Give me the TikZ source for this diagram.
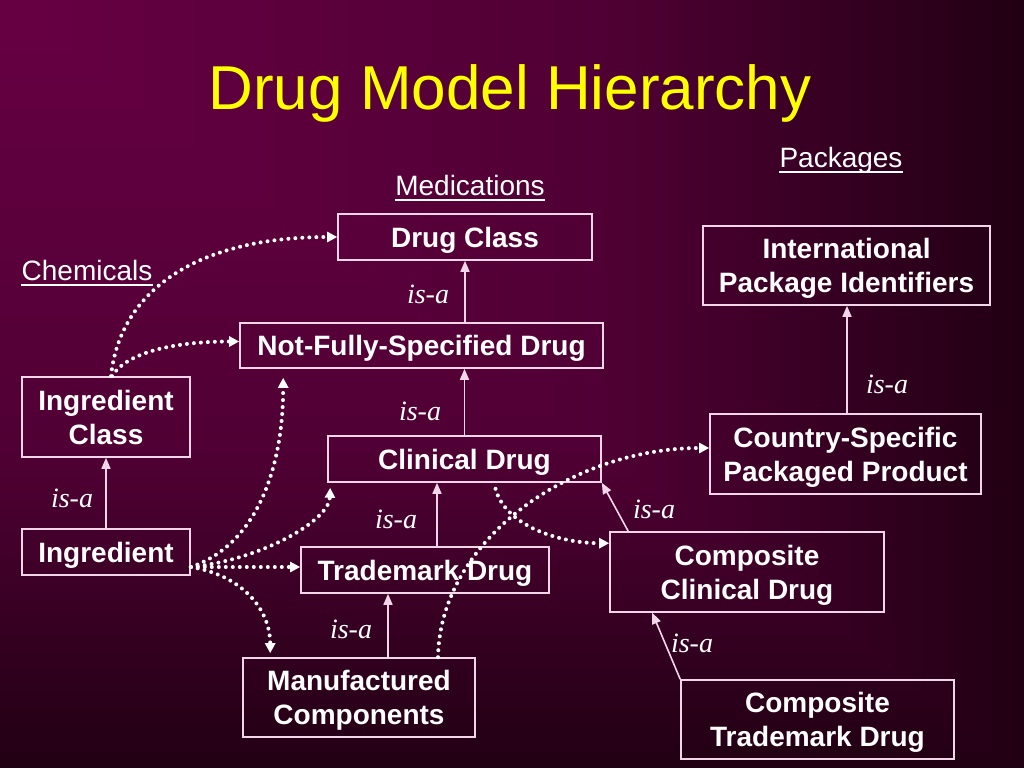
\documentclass[tikz,border=0pt]{standalone}
\usepackage{fontspec}
\setmainfont{Liberation Sans}
\newfontfamily\isafont{Liberation Serif}
\usetikzlibrary{arrows.meta}
\definecolor{boxc}{RGB}{240,214,232}
\definecolor{titlec}{RGB}{255,255,0}
\begin{document}
\begin{tikzpicture}[x=1pt,y=-1pt,
  box/.style={draw=boxc, line width=1.6pt, text=white, font=\fontsize{28}{34}\selectfont\bfseries, align=center, inner sep=0pt, text depth=0pt},
  isa/.style={draw=boxc, line width=1.6pt, -{Triangle[length=11pt,width=9pt]}},
  dots/.style={draw=white, line width=4pt, line cap=round, dash pattern=on 0pt off 7pt, -{Triangle[length=10pt,width=10pt]}},
  isalbl/.style={text=white, font=\isafont\itshape\fontsize{28}{34}\selectfont, anchor=base, inner sep=0pt},
  hdr/.style={text=white, font=\fontsize{28}{34}\selectfont, anchor=base, inner sep=0pt},
  uline/.style={draw=white, line width=2pt}
]
\useasboundingbox (0,0) rectangle (1024,768);
% background: gradient from the top-left corner
\foreach \i in {100,99,...,1}{
  \pgfmathsetmacro\t{\i/100}
  \pgfmathtruncatemacro\rr{\t<=0.6 ? 104-24*\t/0.6 : 80-46*(\t-0.6)/0.4}
  \pgfmathtruncatemacro\bb{\t<=0.6 ? 68-16*\t/0.6 : 52-32*(\t-0.6)/0.4}
  \definecolor{bgc}{RGB}{\rr,0,\bb}
  \fill[bgc] (0,0) rectangle (10.24*\i, 7.68*\i);
}
% title and headers
\node[text=titlec, font=\fontsize{62}{70}\selectfont, anchor=base, inner sep=0pt] (title) at (510,109) {Drug Model Hierarchy};
\node[hdr] (chem) at (87,280) {Chemicals};
\node[hdr] (med) at (470,195) {Medications};
\node[hdr] (pkg) at (841,167) {Packages};
\draw[uline] ([yshift=-5pt]chem.base west) -- ([yshift=-5pt]chem.base east);
\draw[uline] ([yshift=-5pt]med.base west) -- ([yshift=-5pt]med.base east);
\draw[uline] ([yshift=-5pt]pkg.base west) -- ([yshift=-5pt]pkg.base east);
% boxes
\node[box, minimum width=254pt, minimum height=46pt] (dc) at (465,237) {Drug Class};
\node[box, minimum width=363pt, minimum height=45pt] (nfsd) at (421.5,345.5) {Not-Fully-Specified Drug};
\node[box, minimum width=273pt, minimum height=46pt] (cd) at (464.5,459) {Clinical Drug};
\node[box, minimum width=248pt, minimum height=46pt] (tm) at (425,570) {Trademark Drug};
\node[box, minimum width=232pt, minimum height=79pt] (mc) at (359,697.5) {Manufactured\\Components};
\node[box, minimum width=168pt, minimum height=80pt] (icls) at (106,417) {Ingredient\\Class};
\node[box, minimum width=168pt, minimum height=46pt] (ing) at (106,552) {Ingredient};
\node[box, minimum width=287pt, minimum height=79pt] (ipi) at (846.5,265.5) {International\\Package Identifiers};
\node[box, minimum width=271pt, minimum height=80pt] (csp) at (845.5,454) {Country-Specific\\Packaged Product};
\node[box, minimum width=274pt, minimum height=80pt] (ccd) at (747,572) {Composite\\Clinical Drug};
\node[box, minimum width=273pt, minimum height=79pt] (ctd) at (817.5,719.5) {Composite\\Trademark Drug};
% is-a labels
\node[isalbl] (l1) at (428,303) {is-a};
\node[isalbl] (l2) at (420,420) {is-a};
\node[isalbl] (l3) at (72,507) {is-a};
\node[isalbl] (l4) at (396,528) {is-a};
\node[isalbl] (l5) at (351,638) {is-a};
\node[isalbl] (l6) at (887,393) {is-a};
\node[isalbl] (l7) at (654,518) {is-a};
\node[isalbl] (l8) at (692,652) {is-a};
% is-a arrows
\draw[isa] (dc.south |- nfsd.north) -- (dc.south);
\draw[isa] (cd.north) -- (cd.north |- nfsd.south);
\draw[isa] ([xshift=12pt]tm.north) -- ([xshift=12pt]tm.north |- cd.south);
\draw[isa] ([xshift=29pt]mc.north) -- ([xshift=29pt]mc.north |- tm.south);
\draw[isa] (ing.north) -- (icls.south);
\draw[isa] ([xshift=1.5pt]csp.north) -- ([xshift=1.5pt]csp.north |- ipi.south);
\draw[isa] ([xshift=19pt]ccd.north west) -- (cd.south east);
\draw[isa] (ctd.north west) -- ([xshift=43pt]ccd.south west);
% dotted relations
\coordinate (ir) at ([yshift=-15pt]ing.east);
\draw[dots] ([xshift=5pt]icls.north) .. controls +(9,-87) and +(-138,0) .. (dc.west);
\draw[dots] ([xshift=6pt]icls.north) .. controls +(13,-22) and +(-70,0) .. ([yshift=4pt]nfsd.west);
\draw[dots] (ir) .. controls +(65,-22) and +(0,92) .. ([xshift=44pt,yshift=-9pt]nfsd.south west);
\draw[dots] (ir) .. controls +(70,-7) and +(-1,33) .. ([xshift=3pt,yshift=-5pt]cd.south west);
\draw[dots] (ir) -- ([yshift=3pt]tm.west);
\draw[dots] (ir) .. controls +(50,8) and +(0,-45) .. ([xshift=28pt,yshift=4pt]mc.north west);
\draw[dots] ([xshift=79pt]mc.north) .. controls +(2,-118) and +(-137,0) .. ([yshift=6pt]csp.west);
\draw[dots] ([xshift=31pt,yshift=-6pt]cd.south) .. controls +(10,37) and +(-50,0) .. ([yshift=-12pt]ccd.north west);
\end{tikzpicture}
\end{document}
